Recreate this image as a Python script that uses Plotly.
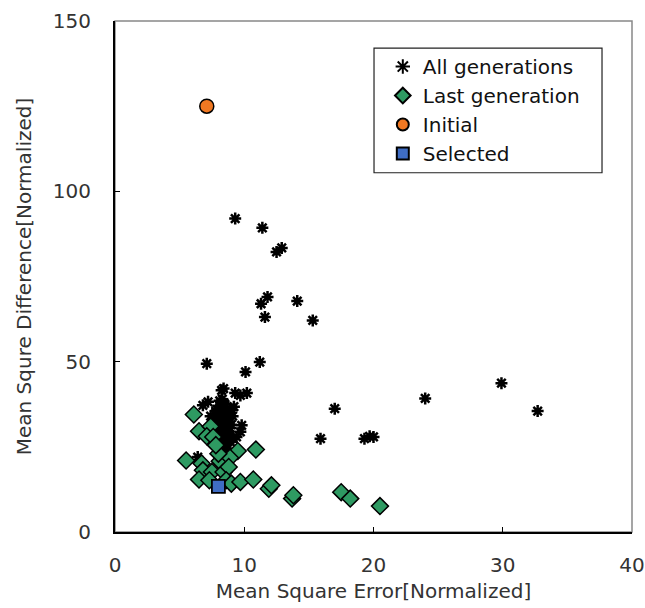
import plotly.graph_objects as go

# All generations (asterisks)
all_x = [9.3, 11.4, 12.5, 12.9, 11.8, 11.3, 11.6, 14.1, 15.3,
         7.1, 10.1, 11.2, 8.4, 9.3, 10.2, 7.2, 6.8, 9.8, 9.4, 6.4,
         17.0, 15.9, 19.3, 19.7, 20.0, 24.0, 29.9, 32.7,
         8.25, 9.7, 9.7, 9.15,
         7.6, 7.8, 8.0, 8.1, 8.2, 8.3, 8.4, 8.5, 8.6, 8.7, 8.8, 8.9, 9.0,
         7.9, 8.0, 8.2, 8.3, 8.5, 8.6, 8.8, 8.1, 8.4, 8.7, 7.7, 8.0,
         8.3, 8.5, 8.9, 9.1, 8.2, 8.6, 7.8, 8.4, 8.0, 8.8, 8.3, 7.5, 9.2,
         7.4, 7.6, 8.1, 8.3, 8.5, 8.7, 8.2, 8.4, 8.6, 8.0, 8.9, 7.9, 8.3, 8.5,
         8.1, 8.6, 8.2, 8.4, 7.8, 9.0]
all_y = [92.0, 89.3, 82.2, 83.4, 69.0, 67.0, 63.1, 67.8, 62.1,
         49.4, 47.0, 49.9, 42.1, 40.8, 40.8, 38.2, 37.2, 31.3, 27.9, 22.0,
         36.2, 27.4, 27.4, 28.1, 27.9, 39.2, 43.7, 35.5,
         41.6, 40.1, 29.4, 27.4,
         33.0, 35.5, 30.0, 37.0, 32.5, 28.0, 34.5, 31.0, 36.0, 29.5, 33.5, 26.5, 31.5,
         27.0, 25.0, 24.0, 30.5, 27.5, 25.5, 35.0, 38.5, 29.0, 23.5, 30.0, 32.0,
         36.5, 33.0, 28.5, 34.0, 26.0, 30.0, 27.5, 22.5, 34.0, 32.0, 39.0, 31.5, 36.8,
         34.0, 31.5, 33.5, 35.0, 29.5, 31.0, 28.5, 26.5, 33.0, 28.0, 30.5, 36.0, 32.0, 37.5,
         24.5, 27.0, 30.8, 38.0, 34.2, 35.8]

# Last generation (diamonds)
last_x = [6.1, 6.5, 7.4, 7.1, 7.6, 9.5, 10.9, 8.1, 8.9, 5.5, 6.7, 6.8, 7.5, 8.4,
          8.8, 6.5, 7.3, 8.6, 9.0, 9.7, 10.7, 11.9, 12.1, 13.7, 13.8, 17.5, 18.2, 20.5,
          8.0, 7.8]
last_y = [34.5, 29.6, 31.0, 28.1, 27.9, 23.8, 24.2, 20.8, 21.8, 21.0, 20.1, 18.1, 17.6, 17.6,
          19.1, 15.4, 15.2, 15.2, 14.2, 14.7, 15.4, 12.7, 13.7, 9.8, 10.8, 11.7, 9.8, 7.6,
          23.0, 25.5]

init_x = [7.1]
init_y = [125.0]

sel_x = [8.0]
sel_y = [13.4]

FONT = "DejaVu Sans"
TXT = "#333333"

fig = go.Figure()
fig.add_trace(go.Scatter(
    x=all_x, y=all_y, mode="markers", name="All generations", legendgroup="a",
    marker=dict(symbol="asterisk-open", size=10, color="black",
                line=dict(color="black", width=2.5))))
fig.add_trace(go.Scatter(
    x=last_x, y=last_y, mode="markers", name="Last generation", legendgroup="b",
    marker=dict(symbol="diamond", size=13, color="#2E9A62",
                line=dict(color="black", width=1.5))))
fig.add_trace(go.Scatter(
    x=init_x, y=init_y, mode="markers", name="Initial", legendgroup="c",
    marker=dict(symbol="circle", size=14, color="#F07822",
                line=dict(color="black", width=1.5))))
fig.add_trace(go.Scatter(
    x=sel_x, y=sel_y, mode="markers", name="Selected", legendgroup="d",
    marker=dict(symbol="square", size=13, color="#3F6DC4",
                line=dict(color="black", width=1.8))))

# plot frame (grey top/right)
fig.add_shape(type="rect", xref="paper", yref="paper", x0=0, x1=1, y0=0, y1=1,
              line=dict(color="#888888", width=1.5), layer="below")
# legend box
fig.add_shape(type="rect", xref="paper", yref="paper",
              x0=0.501, x1=0.942, y0=0.703, y1=0.947,
              line=dict(color="#222222", width=1.2), fillcolor="white", layer="below")

fig.update_layout(
    width=645, height=608,
    margin=dict(l=115, r=13, t=21, b=76, autoexpand=False),
    paper_bgcolor="white", plot_bgcolor="white",
    font=dict(family=FONT, color=TXT, size=18),
    showlegend=True,
    legend=dict(x=0.518, y=0.949, xanchor="left", yanchor="top",
                borderwidth=0, bgcolor="rgba(0,0,0,0)",
                font=dict(size=20, color="#111111", family=FONT),
                tracegroupgap=0, itemsizing="constant"),
    xaxis=dict(range=[0, 40], tickvals=[0, 10, 20, 30, 40],
               ticks="inside", ticklen=5, tickcolor="black", automargin=False,
               showline=True, linecolor="black", linewidth=2,
               showgrid=False, zeroline=False, ticklabelstandoff=14,
               tickfont=dict(size=20, color=TXT),
               title=dict(text="Mean Square Error[Normalized]",
                          font=dict(size=20, color=TXT), standoff=8)),
    yaxis=dict(range=[0, 150], tickvals=[0, 50, 100, 150],
               ticks="inside", ticklen=5, tickcolor="black", automargin=False,
               showline=True, linecolor="black", linewidth=2,
               showgrid=False, zeroline=False, ticklabelstandoff=18,
               tickfont=dict(size=20, color=TXT),
               title=dict(text="Mean Squre Difference[Normalized]",
                          font=dict(size=20, color=TXT), standoff=16)),
)

fig.write_html("out.html")
